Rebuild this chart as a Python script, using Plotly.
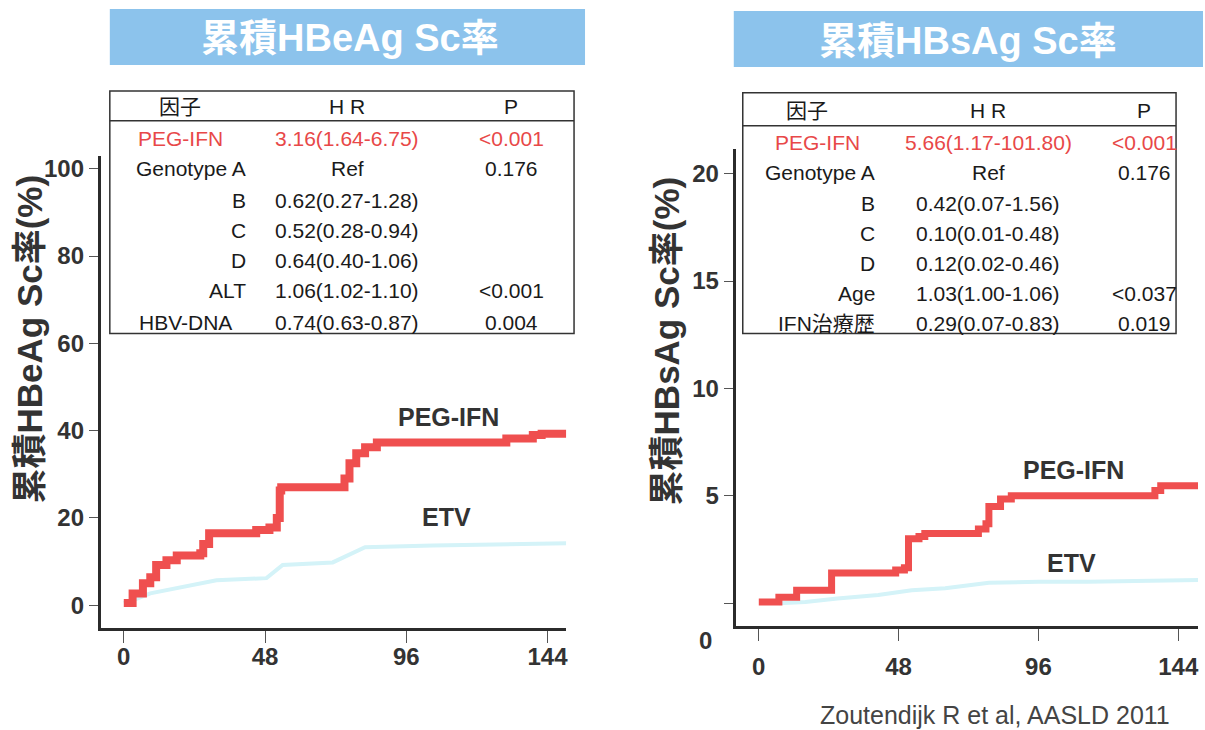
import plotly.graph_objects as go

# ---- data -------------------------------------------------------------
weeks_ticks = [0, 48, 96, 144]

# HBeAg seroconversion (%), Kaplan-Meier style curves
hbeag_peg_x = [0, 3, 6.5, 9, 11, 14.5, 18, 26, 27, 29, 45, 49.5, 52, 53, 53.5, 74, 75, 76.7,
               79, 82, 86, 127.5, 130, 139, 142, 151]
hbeag_peg_y = [0.5, 2.7, 5, 6.4, 9.2, 10.3, 11.4, 11.9, 14, 16.5, 17.2, 17.8, 20, 26.3, 27, 27,
               29, 32.5, 34.8, 36.2, 37.3, 37.3, 38.2, 39, 39.3, 39.6]
hbeag_etv_x = [0, 3, 9, 14.5, 23.4, 31.5, 48.5, 52, 54, 71, 77.7, 82, 105, 139, 151]
hbeag_etv_y = [0.5, 1.1, 2.7, 3.4, 4.6, 5.7, 6.2, 8, 9.2, 9.8, 11.9, 13.3, 13.7, 14, 14.2]

# HBsAg seroconversion (%)
hbsag_peg_x = [0, 6.9, 13, 25, 47, 50, 51.4, 55, 57, 73, 75.4, 78, 79, 83, 86.7, 134.7, 136,
               138, 151]
hbsag_peg_y = [0.05, 0.28, 0.6, 1.4, 1.55, 1.65, 3.0, 3.1, 3.25, 3.25, 3.45, 3.7, 4.5, 4.85,
               5.0, 5.0, 5.25, 5.47, 5.47]
hbsag_etv_x = [7, 16, 27, 41, 52.5, 64, 79, 96, 113, 151]
hbsag_etv_y = [0.0, 0.05, 0.22, 0.38, 0.6, 0.7, 0.95, 1.0, 1.0, 1.08]

hbeag_yticks = [0, 20, 40, 60, 80, 100]
hbsag_yticks = [0, 5, 10, 15, 20]
hbsag_yticklabels = ["", "5", "10", "15", "20"]

# Cox regression tables
table_header = ["因子", "H R", "P"]
hbeag_factor = ["PEG-IFN", "Genotype A", "B", "C", "D", "ALT", "HBV-DNA"]
hbeag_hr = ["3.16(1.64-6.75)", "Ref", "0.62(0.27-1.28)", "0.52(0.28-0.94)",
            "0.64(0.40-1.06)", "1.06(1.02-1.10)", "0.74(0.63-0.87)"]
hbeag_p = ["<0.001", "0.176", "", "", "", "<0.001", "0.004"]

hbsag_factor = ["PEG-IFN", "Genotype A", "B", "C", "D", "Age", "IFN治療歴"]
hbsag_hr = ["5.66(1.17-101.80)", "Ref", "0.42(0.07-1.56)", "0.10(0.01-0.48)",
            "0.12(0.02-0.46)", "1.03(1.00-1.06)", "0.29(0.07-0.83)"]
hbsag_p = ["<0.001", "0.176", "", "", "", "<0.037", "0.019"]

# ---- styling ----------------------------------------------------------
W, H = 1205, 730
FONT = "Liberation Sans, Arial, Noto Sans CJK JP, sans-serif"
RED = "#ef4f4f"
RED_TXT = "#e84848"
ETV_C = "#d4f3f8"
DARK = "#2b2b2b"
BANNER = "#8cc3ec"
TABLE_SIZE = 21


def fx(p):
    return p / W


def fy(p):
    return 1 - p / H


fig = go.Figure()

fig.add_trace(go.Scatter(x=hbeag_etv_x, y=hbeag_etv_y, mode="lines",
                         line=dict(color=ETV_C, width=4), xaxis="x", yaxis="y"))
fig.add_trace(go.Scatter(x=hbeag_peg_x, y=hbeag_peg_y, mode="lines",
                         line=dict(color=RED, width=8, shape="hv"), xaxis="x", yaxis="y"))
fig.add_trace(go.Scatter(x=hbsag_etv_x, y=hbsag_etv_y, mode="lines",
                         line=dict(color=ETV_C, width=4), xaxis="x2", yaxis="y2"))
fig.add_trace(go.Scatter(x=hbsag_peg_x, y=hbsag_peg_y, mode="lines",
                         line=dict(color=RED, width=7, shape="hv"), xaxis="x2", yaxis="y2"))

tickfont = dict(family=FONT, size=24, color="#333", weight="bold")
common_x = dict(tickvals=weeks_ticks, ticks="outside", ticklen=12, tickwidth=1,
                tickcolor="#555", showline=True, linewidth=3, linecolor=DARK,
                showgrid=False, zeroline=False, tickfont=tickfont)
common_y = dict(ticks="outside", ticklen=9, tickwidth=1, tickcolor="#555",
                showline=True, linewidth=3, linecolor=DARK, showgrid=False,
                zeroline=False, tickfont=tickfont)

fig.update_layout(
    width=W, height=H, margin=dict(l=0, r=0, t=0, b=0),
    paper_bgcolor="white", plot_bgcolor="white", showlegend=False,
    xaxis=dict(domain=[fx(101), fx(567)], range=[-7.8, 150.3], anchor="y",
               ticklabelstandoff=-7, **common_x),
    yaxis=dict(domain=[fy(628), fy(155)], range=[-5.26, 102.97], anchor="x",
               tickvals=hbeag_yticks, **common_y),
    xaxis2=dict(domain=[fx(737), fx(1200)], range=[-7.9, 150.8], anchor="y2",
                ticklabelstandoff=5, **common_x),
    yaxis2=dict(domain=[fy(626), fy(148)], range=[-1.07, 21.16], anchor="x2",
                tickvals=hbsag_yticks, ticktext=hbsag_yticklabels, **common_y),
)

shapes = []
annotations = []


def text(x, y, s, size=20, color="#222", bold=False, xanchor="center", angle=0):
    annotations.append(dict(
        x=fx(x), y=fy(y), xref="paper", yref="paper", text=s, showarrow=False,
        xanchor=xanchor, yanchor="middle", textangle=angle,
        font=dict(family=FONT, size=size, color=color,
                  weight="bold" if bold else "normal")))


# title banners
for (x0, y0, x1, y1, label, cx, cy) in [
        (110, 8, 586, 64, "累積HBeAg Sc率", 351, 37),
        (735, 10, 1205, 66, "累積HBsAg Sc率", 970, 40)]:
    shapes.append(dict(type="rect", xref="paper", yref="paper",
                       x0=fx(x0), x1=fx(x1), y0=fy(y1), y1=fy(y0),
                       fillcolor=BANNER, line=dict(width=0), layer="below"))
    text(cx, cy, label, size=38, color="white", bold=True)

# y-axis titles
text(30, 338, "累積HBeAg Sc率(%)", size=35, color="#333", bold=True, angle=-90)
text(668, 340, "累積HBsAg Sc率(%)", size=35, color="#333", bold=True, angle=-90)
text(707, 640, "0", size=24, color="#333", bold=True)

# curve labels
text(449, 417, "PEG-IFN", size=25, color="#333", bold=True)
text(447, 517, "ETV", size=25, color="#333", bold=True)
text(1075, 470, "PEG-IFN", size=25, color="#333", bold=True)
text(1073, 563, "ETV", size=25, color="#333", bold=True)

# citation
text(997, 715, "Zoutendijk R et al, AASLD 2011", size=25, color="#444")


def draw_table(box, sep_y, header_y, row_y, cols, factors, hrs, ps, fac_pos):
    x0, y0, x1, y1 = box
    shapes.append(dict(type="rect", xref="paper", yref="paper",
                       x0=fx(x0), x1=fx(x1), y0=fy(y1), y1=fy(y0),
                       fillcolor="white", line=dict(color="#333", width=1.5)))
    shapes.append(dict(type="line", xref="paper", yref="paper",
                       x0=fx(x0), x1=fx(x1), y0=fy(sep_y), y1=fy(sep_y),
                       line=dict(color="#333", width=1.5)))
    for c, h in zip(cols, table_header):
        text(c, header_y, h, size=TABLE_SIZE, color="#1a1a1a")
    for i, (f, hr, p) in enumerate(zip(factors, hrs, ps)):
        color = RED_TXT if i == 0 else "#1a1a1a"
        px, anchor = fac_pos(i)
        text(px, row_y[i], f, size=TABLE_SIZE, color=color, xanchor=anchor)
        text(cols[1], row_y[i], hr, size=TABLE_SIZE, color=color)
        if p:
            text(cols[2], row_y[i], p, size=TABLE_SIZE, color=color)


def hbeag_fac_pos(i):
    if i == 0:
        return 136, "left"
    if i == len(hbeag_factor) - 1:
        return 186, "center"
    return 248, "right"


def hbsag_fac_pos(i):
    if i == 0:
        return 774, "left"
    return 878, "right"


draw_table((110, 90, 575, 333), 120, 106,
           [138, 168, 200, 230, 260, 290, 322], [180, 348, 512],
           hbeag_factor, hbeag_hr, hbeag_p, hbeag_fac_pos)
draw_table((744, 92, 1178, 333), 125, 110,
           [142, 172, 203, 233, 263, 293, 323], [808, 990, 1146],
           hbsag_factor, hbsag_hr, hbsag_p, hbsag_fac_pos)

fig.update_layout(shapes=shapes, annotations=annotations)
fig.write_html("out.html")
